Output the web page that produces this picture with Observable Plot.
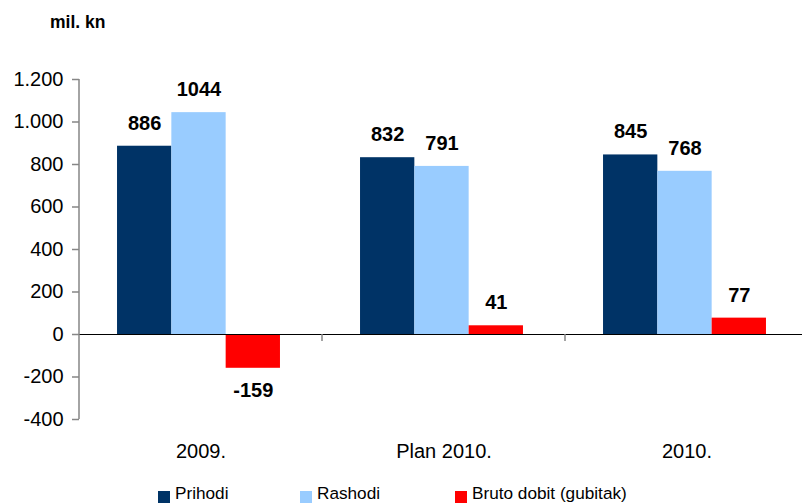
<!DOCTYPE html>
<html><head><meta charset="utf-8">
<script src="https://cdn.jsdelivr.net/npm/d3@7"></script>
<script src="https://cdn.jsdelivr.net/npm/@observablehq/plot@0.6"></script>
<style>
html,body{margin:0;padding:0;background:#fff;overflow:hidden;width:802px;height:504px;}
#wrap{position:relative;width:802px;height:504px;overflow:hidden;font-family:"Liberation Sans",Arial,sans-serif;}
#unit{position:absolute;left:50px;top:12px;font-weight:bold;font-size:17.5px;color:#000;}
#chart{position:absolute;left:0;top:0;width:808px;}
#chart svg{max-width:none !important;}
#legend{position:absolute;left:158px;top:483px;display:flex;font-size:17.2px;color:#000;}
#legend .it{display:flex;align-items:center;}
#legend .sw{width:12px;height:12px;margin-right:5px;margin-top:6px;}
</style></head>
<body><div id="wrap"><div id="chart"></div><div id="unit">mil. kn</div><div id="legend"></div></div>
<script>
const categories = ["2009.", "Plan 2010.", "2010."];
const seriesNames = ["Prihodi", "Rashodi", "Bruto dobit (gubitak)"];
const prihodi = [886, 832, 845];
const rashodi = [1044, 791, 768];
const brutoDobit = [-159, 41, 77];
const yTicks = [-400, -200, 0, 200, 400, 600, 800, 1000, 1200];
const colors = ["#003366", "#99CCFF", "#FF0000"];

const seriesValues = [prihodi, rashodi, brutoDobit];
const data = [];
categories.forEach((c, i) => seriesNames.forEach((s, j) => data.push({cat: c, series: s, value: seriesValues[j][i]})));

const loc = d3.formatLocale({decimal: ",", thousands: ".", grouping: [3], currency: ["", ""], minus: "-"});
const fmt = loc.format(",");

const chart = Plot.plot({
  width: 808,
  height: 470,
  marginLeft: 79,
  marginRight: 0,
  marginTop: 79,
  marginBottom: 51,
  style: {fontSize: "20px", fontFamily: "Liberation Sans, Arial, sans-serif", color: "#000", background: "transparent", overflow: "visible", maxWidth: "none"},
  fx: {domain: categories, padding: 0, label: null, axis: "bottom", tickSize: 0, tickPadding: 24},
  x: {domain: seriesNames, paddingInner: 0, paddingOuter: 0.737, align: 0.475, round: false, axis: null},
  y: {domain: [-400, 1200], ticks: yTicks, tickFormat: fmt, tickSize: 7, tickPadding: 9, label: null},
  color: {domain: seriesNames, range: colors},
  marks: [
    Plot.barY(data, {fx: "cat", x: "series", y: "value", fill: "series"}),
    Plot.ruleY([0], {stroke: "#000", strokeWidth: 1.2}),
    Plot.text(data.filter(d => d.value >= 0), {fx: "cat", x: "series", y: "value", text: d => String(d.value), dy: -23, fontWeight: "bold", fontSize: 20, fill: "#000"}),
    Plot.text(data.filter(d => d.value < 0), {fx: "cat", x: "series", y: "value", text: d => String(d.value), dy: 22, fontWeight: "bold", fontSize: 20, fill: "#000"})
  ]
});
chart.style.maxWidth = "none";
document.getElementById("chart").appendChild(chart);

// axis line and category boundary ticks from the library's scales
const ys = chart.scale("y");
const fxs = chart.scale("fx");
const yApply = ys.apply ? ys.apply : d3.scaleLinear().domain(ys.domain).range(ys.range);
const band = d3.scaleBand().domain(fxs.domain).range(fxs.range).paddingInner(0).paddingOuter(0);
const svg = d3.select(chart);
const yTop = yApply(yTicks[yTicks.length - 1]), yBot = yApply(yTicks[0]), y0 = yApply(0);
const x0 = band(categories[0]);
svg.append("line").attr("x1", x0).attr("x2", x0).attr("y1", yTop).attr("y2", yBot).attr("stroke", "#868686").attr("stroke-width", 1.5);
categories.forEach((c, i) => {
  if (i === 0) return;
  const xb = band(c);
  svg.append("line").attr("x1", xb).attr("x2", xb).attr("y1", y0).attr("y2", y0 + 7).attr("stroke", "#868686").attr("stroke-width", 1.5);
});
svg.selectAll("g[aria-label='y-axis tick'] path, g[aria-label='y-axis'] path").attr("stroke", "#868686").attr("stroke-width", 1.5);

// legend
const lg = document.getElementById("legend");
const widths = [142, 155, 200];
seriesNames.forEach((s, j) => {
  const it = document.createElement("div");
  it.className = "it"; it.style.width = widths[j] + "px";
  const sw = document.createElement("span"); sw.className = "sw"; sw.style.background = colors[j];
  const tx = document.createElement("span"); tx.textContent = s;
  it.appendChild(sw); it.appendChild(tx); lg.appendChild(it);
});
</script></body></html>
